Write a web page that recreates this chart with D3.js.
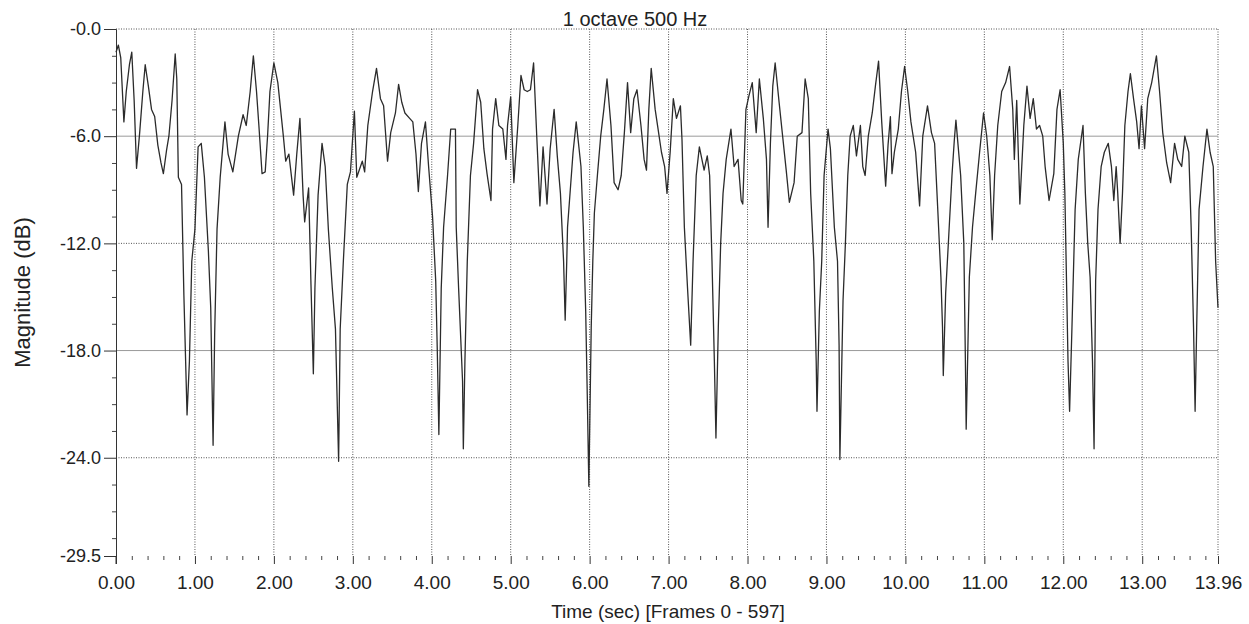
<!DOCTYPE html>
<html>
<head>
<meta charset="utf-8">
<script src="https://cdn.jsdelivr.net/npm/d3@7"></script>
<style>
  html, body { margin: 0; padding: 0; background: #fff; }
  svg { display: block; }
  text { font-family: "Liberation Sans", Arial, sans-serif; fill: #222; }
</style>
</head>
<body>
<svg id="chart" width="1249" height="624"></svg>
<script>
// ---- data: [time (sec), magnitude (dB)] ----
const samples = [
  [0.00,-1.3],[0.03,-0.9],[0.06,-1.6],[0.10,-5.2],[0.13,-3.5],[0.17,-2.0],[0.20,-1.3],[0.23,-4.0],
  [0.26,-7.8],[0.30,-5.8],[0.34,-3.5],[0.37,-2.0],[0.41,-3.2],[0.45,-4.5],[0.49,-4.9],[0.53,-6.5],
  [0.57,-7.5],[0.60,-8.1],[0.64,-6.8],[0.67,-6.0],[0.71,-4.0],[0.75,-1.4],[0.77,-2.8],[0.79,-8.3],
  [0.83,-8.7],[0.86,-14.9],[0.90,-21.6],[0.93,-18.6],[0.96,-13.0],[1.00,-11.2],[1.04,-6.6],[1.08,-6.4],
  [1.12,-8.3],[1.17,-12.4],[1.20,-15.6],[1.23,-23.3],[1.25,-17.0],[1.28,-11.2],[1.32,-8.3],[1.38,-5.2],
  [1.42,-7.0],[1.48,-8.0],[1.55,-6.0],[1.61,-4.8],[1.65,-5.4],[1.70,-3.5],[1.74,-1.5],[1.78,-3.5],
  [1.81,-5.4],[1.85,-8.1],[1.89,-8.0],[1.92,-6.0],[1.95,-3.5],[2.00,-1.9],[2.05,-3.0],[2.12,-6.0],
  [2.15,-7.4],[2.19,-7.0],[2.25,-9.3],[2.29,-7.0],[2.33,-5.0],[2.37,-9.3],[2.39,-10.8],[2.44,-8.9],
  [2.47,-14.3],[2.50,-19.3],[2.52,-14.5],[2.56,-9.3],[2.61,-6.4],[2.65,-7.7],[2.69,-11.2],[2.74,-14.5],
  [2.78,-16.8],[2.82,-24.2],[2.84,-16.8],[2.88,-13.0],[2.93,-8.7],[2.97,-8.0],[3.02,-4.6],[3.05,-8.3],
  [3.12,-7.4],[3.15,-8.0],[3.19,-5.4],[3.25,-3.5],[3.30,-2.2],[3.35,-3.9],[3.39,-4.3],[3.44,-7.4],
  [3.48,-5.8],[3.54,-4.7],[3.58,-3.1],[3.62,-4.1],[3.66,-4.7],[3.72,-5.0],[3.76,-5.2],[3.80,-7.0],
  [3.83,-9.1],[3.87,-6.4],[3.92,-5.2],[3.96,-7.7],[4.01,-10.5],[4.05,-14.1],[4.07,-18.0],[4.09,-22.7],
  [4.12,-14.5],[4.15,-11.1],[4.20,-8.2],[4.24,-5.6],[4.30,-5.6],[4.31,-11.1],[4.34,-14.5],[4.39,-19.7],
  [4.40,-23.5],[4.42,-18.6],[4.45,-13.0],[4.49,-8.2],[4.53,-6.4],[4.58,-3.4],[4.62,-4.1],[4.66,-6.7],
  [4.70,-8.1],[4.75,-9.6],[4.77,-5.6],[4.81,-3.9],[4.85,-5.4],[4.90,-5.6],[4.94,-7.3],[4.96,-5.4],
  [5.00,-3.8],[5.04,-8.6],[5.09,-5.4],[5.13,-2.6],[5.17,-3.4],[5.21,-3.5],[5.25,-3.4],[5.29,-1.9],
  [5.33,-6.0],[5.37,-9.9],[5.41,-6.6],[5.46,-9.8],[5.50,-6.7],[5.55,-4.5],[5.59,-7.1],[5.63,-9.2],
  [5.67,-13.0],[5.69,-16.3],[5.71,-13.0],[5.72,-11.1],[5.79,-6.9],[5.83,-5.2],[5.89,-7.7],[5.92,-11.1],
  [5.95,-15.8],[5.97,-20.5],[5.99,-25.6],[6.02,-16.7],[6.04,-13.0],[6.06,-10.3],[6.10,-8.1],[6.14,-6.0],
  [6.18,-4.5],[6.22,-2.8],[6.27,-5.4],[6.31,-8.6],[6.36,-9.0],[6.40,-8.2],[6.44,-5.8],[6.48,-3.0],
  [6.52,-5.8],[6.56,-3.9],[6.60,-3.4],[6.65,-5.4],[6.69,-7.3],[6.72,-7.9],[6.75,-4.5],[6.78,-2.2],
  [6.83,-4.5],[6.86,-5.4],[6.91,-6.9],[6.95,-7.7],[6.98,-9.2],[7.02,-6.9],[7.06,-3.9],[7.10,-5.0],
  [7.15,-4.3],[7.17,-6.2],[7.20,-11.1],[7.24,-14.5],[7.28,-17.7],[7.31,-13.0],[7.35,-8.2],[7.39,-6.6],
  [7.45,-7.9],[7.49,-7.1],[7.52,-8.2],[7.55,-13.0],[7.58,-18.6],[7.60,-22.9],[7.63,-16.7],[7.66,-12.0],
  [7.69,-9.2],[7.73,-7.3],[7.79,-5.6],[7.83,-7.7],[7.88,-7.3],[7.92,-9.6],[7.94,-9.8],[7.98,-4.5],
  [8.02,-3.7],[8.06,-3.0],[8.11,-5.8],[8.15,-2.8],[8.20,-5.0],[8.24,-7.3],[8.26,-11.1],[8.29,-6.4],
  [8.32,-3.2],[8.35,-1.9],[8.40,-4.1],[8.44,-5.8],[8.49,-7.9],[8.53,-9.7],[8.59,-8.6],[8.63,-6.0],
  [8.69,-5.8],[8.73,-2.8],[8.77,-3.9],[8.80,-9.2],[8.84,-13.0],[8.87,-18.6],[8.88,-21.4],[8.91,-15.8],
  [8.94,-13.0],[8.97,-8.2],[9.02,-5.6],[9.05,-6.7],[9.10,-11.1],[9.14,-13.0],[9.16,-17.7],[9.17,-24.1],
  [9.21,-15.2],[9.24,-12.0],[9.27,-8.2],[9.30,-6.0],[9.34,-5.4],[9.38,-7.1],[9.43,-5.4],[9.46,-7.7],
  [9.49,-8.2],[9.53,-6.0],[9.58,-4.7],[9.62,-3.2],[9.66,-1.8],[9.70,-5.2],[9.75,-8.8],[9.78,-6.5],
  [9.81,-4.9],[9.83,-8.1],[9.86,-6.9],[9.91,-5.6],[9.95,-3.5],[9.99,-2.1],[10.03,-3.5],[10.07,-5.2],
  [10.13,-6.9],[10.18,-9.9],[10.22,-6.0],[10.28,-4.3],[10.33,-5.8],[10.37,-6.4],[10.41,-10.1],[10.45,-13.9],
  [10.47,-16.7],[10.48,-19.4],[10.51,-14.8],[10.55,-11.5],[10.59,-8.2],[10.62,-6.2],[10.64,-5.1],[10.70,-8.2],
  [10.74,-12.0],[10.76,-18.6],[10.77,-22.4],[10.81,-13.9],[10.85,-11.1],[10.89,-9.2],[10.94,-6.9],[10.99,-4.7],
  [11.03,-6.0],[11.07,-8.2],[11.10,-11.8],[11.13,-8.2],[11.17,-5.4],[11.22,-3.5],[11.27,-3.0],[11.32,-2.1],
  [11.36,-4.5],[11.38,-7.3],[11.41,-4.0],[11.45,-9.8],[11.50,-5.4],[11.54,-3.2],[11.58,-5.0],[11.62,-3.9],
  [11.66,-5.6],[11.70,-5.4],[11.74,-6.0],[11.77,-7.7],[11.82,-9.6],[11.88,-8.1],[11.92,-4.5],[11.96,-3.4],
  [12.00,-6.4],[12.02,-9.2],[12.04,-13.9],[12.06,-18.6],[12.08,-21.4],[12.11,-16.7],[12.15,-10.1],[12.19,-7.3],
  [12.25,-5.4],[12.28,-9.2],[12.31,-12.0],[12.34,-13.9],[12.37,-18.6],[12.39,-23.5],[12.41,-14.1],[12.44,-10.1],
  [12.48,-7.7],[12.52,-6.9],[12.57,-6.4],[12.61,-7.7],[12.64,-9.6],[12.67,-7.7],[12.69,-9.2],[12.72,-12.0],
  [12.75,-9.2],[12.78,-5.4],[12.82,-3.5],[12.85,-2.5],[12.89,-3.9],[12.93,-5.2],[12.96,-6.7],[12.99,-4.3],
  [13.03,-6.7],[13.07,-3.9],[13.12,-3.0],[13.18,-1.5],[13.22,-3.5],[13.26,-5.8],[13.31,-7.5],[13.36,-8.6],
  [13.41,-6.4],[13.45,-7.3],[13.50,-7.7],[13.54,-6.0],[13.59,-6.9],[13.62,-11.1],[13.65,-16.7],[13.67,-21.4],
  [13.69,-16.7],[13.72,-10.1],[13.77,-7.7],[13.82,-5.6],[13.86,-6.9],[13.90,-7.7],[13.93,-13.0],[13.96,-15.6]
];

const xTickValues = [0,1,2,3,4,5,6,7,8,9,10,11,12,13,13.96];
const xTickLabels = ["0.00","1.00","2.00","3.00","4.00","5.00","6.00","7.00","8.00","9.00","10.00","11.00","12.00","13.00","13.96"];
const yTickValues = [0,-6,-12,-18,-24,-29.5];
const yTickLabels = ["-0.0","-6.0","-12.0","-18.0","-24.0","-29.5"];
const titleText = "1 octave 500 Hz";
const xTitle = "Time (sec)  [Frames 0 - 597]";
const yTitle = "Magnitude (dB)";

// ---- layout ----
const svg = d3.select("#chart");
const L = 116, R = 1218, T = 29, B = 556;
const x = d3.scaleLinear().domain([0, 13.96]).range([L, R]);
const y = d3.scaleLinear().domain([0, -29.5]).range([T, B]);

// grid
const grid = svg.append("g");
d3.range(1, 14).forEach(v => {
  grid.append("line")
    .attr("x1", x(v)).attr("x2", x(v)).attr("y1", T).attr("y2", B)
    .attr("stroke", "#555").attr("stroke-width", 1).attr("stroke-dasharray", "1,1.5");
});
grid.append("line").attr("x1", R).attr("x2", R).attr("y1", T).attr("y2", B)
  .attr("stroke", "#555").attr("stroke-dasharray", "1,1.5");
[0, -6, -12, -18, -24].forEach(v => {
  const solid = (v === -6 || v === -18);
  grid.append("line")
    .attr("x1", L).attr("x2", R).attr("y1", y(v)).attr("y2", y(v))
    .attr("stroke", solid ? "#9a9a9a" : "#555")
    .attr("stroke-width", 1)
    .attr("stroke-dasharray", solid ? null : "1,1.5");
});

// y axis
const yAxis = d3.axisLeft(y).tickValues(yTickValues)
  .tickFormat((d, i) => yTickLabels[i]).tickSize(12).tickPadding(3);
const gy = svg.append("g").attr("transform", `translate(${L},0)`).call(yAxis);
gy.select(".domain").attr("stroke", "#333");
gy.selectAll(".tick line").attr("stroke", "#333");
gy.selectAll(".tick text").style("font-size", "18px").attr("fill", "#222");
const yMinor = d3.range(0, 30, 1.5).map(v => -v).filter(v => !yTickValues.includes(v));
const gyMinor = svg.append("g").attr("transform", `translate(${L},0)`)
  .call(d3.axisLeft(y).tickValues(yMinor).tickSize(4).tickFormat(""));
gyMinor.select(".domain").remove();
gyMinor.selectAll(".tick line").attr("stroke", "#444");

// x axis
const xAxis = d3.axisBottom(x).tickValues(xTickValues)
  .tickFormat((d, i) => xTickLabels[i]).tickSize(8).tickPadding(12);
const gx = svg.append("g").attr("transform", `translate(0,${B})`).call(xAxis);
gx.select(".domain").remove();
gx.selectAll(".tick line").attr("stroke", "#333");
gx.selectAll(".tick text").style("font-size", "19px").attr("fill", "#222");
const xMinor = d3.range(0, 14, 0.2).filter(v => Math.abs(v - Math.round(v)) > 0.01);
const gxMinor = svg.append("g").attr("transform", `translate(0,${B})`)
  .call(d3.axisBottom(x).tickValues(xMinor).tickSize(4).tickFormat(""));
gxMinor.select(".domain").remove();
gxMinor.selectAll(".tick line").attr("stroke", "#444");
svg.append("line").attr("x1", L).attr("x2", L).attr("y1", B).attr("y2", B + 8).attr("stroke", "#333");

// waveform
const line = d3.line().x(d => x(d[0])).y(d => y(d[1]));
svg.append("path").datum(samples)
  .attr("d", line)
  .attr("fill", "none")
  .attr("stroke", "#2b2b2b")
  .attr("stroke-width", 1.3)
  .attr("stroke-linejoin", "round");

// titles
svg.append("text").attr("x", 635).attr("y", 26).attr("text-anchor", "middle")
  .style("font-size", "20px").text(titleText);
svg.append("text").attr("x", 668).attr("y", 618).attr("text-anchor", "middle")
  .style("font-size", "19px").text(xTitle);
svg.append("text").attr("transform", `translate(30,${(T + B) / 2}) rotate(-90)`)
  .attr("text-anchor", "middle").style("font-size", "22px").text(yTitle);
</script>
</body>
</html>
